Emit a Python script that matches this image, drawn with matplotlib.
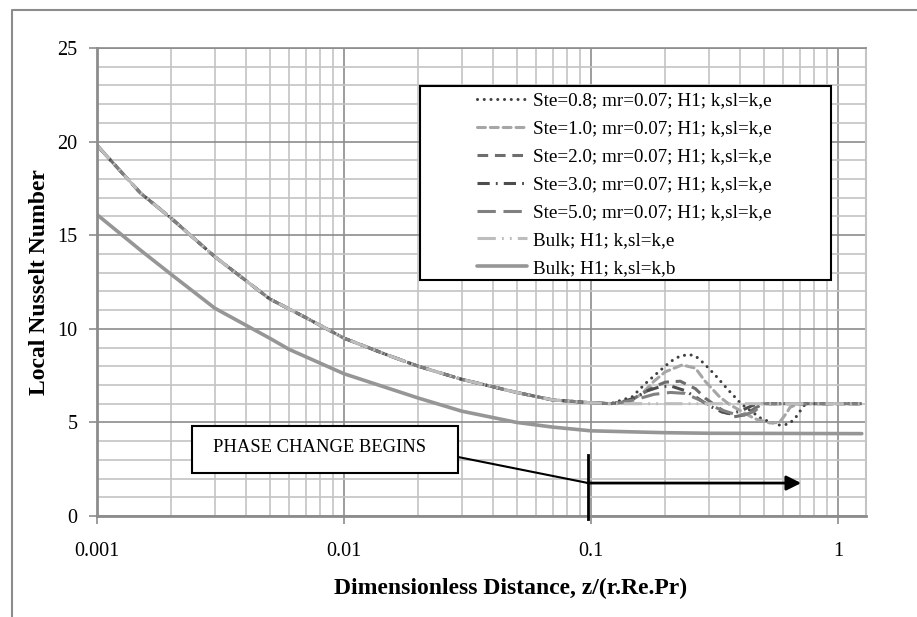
import matplotlib
matplotlib.use("Agg")
import matplotlib.pyplot as plt
from matplotlib.patches import Rectangle
from matplotlib.lines import Line2D
from matplotlib.ticker import FixedLocator, NullFormatter

plt.rcParams['font.family'] = ['Liberation Serif', 'DejaVu Serif']

# Local Nusselt number along the tube, z* = z/(r.Re.Pr)
# shared entrance region (k,sl = k,e) before phase change starts
z_entry = [0.001, 0.0015, 0.002, 0.003, 0.005, 0.007, 0.01, 0.015, 0.02, 0.03, 0.05, 0.07, 0.1, 0.12]
nu_entry = [19.8, 17.25, 15.9, 13.85, 11.6, 10.6, 9.5, 8.6, 8.0, 7.3, 6.6, 6.2, 6.05, 6.0]

# phase change section for each Stefan number
z_ste08 = [0.147, 0.167, 0.188, 0.21, 0.23, 0.25, 0.265, 0.287, 0.32, 0.34, 0.36, 0.38, 0.405,
           0.49, 0.576, 0.63, 0.67, 0.70, 0.74, 1.25]
nu_ste08 = [6.37, 7.1, 7.7, 8.25, 8.55, 8.62, 8.55, 8.15, 7.5, 7.1, 6.73, 6.4, 6.0,
            5.2, 4.86, 4.9, 5.2, 5.57, 6.0, 6.0]

z_ste10 = [0.14, 0.16, 0.18, 0.2, 0.234, 0.265, 0.29, 0.33, 0.36, 0.40, 0.46, 0.53, 0.58,
           0.62, 0.64, 0.69, 1.25]
nu_ste10 = [6.05, 6.5, 7.2, 7.7, 8.07, 7.9, 7.2, 6.4, 6.0, 5.65, 5.2, 4.97, 5.0,
            5.5, 5.8, 6.0, 6.0]

z_ste20 = [0.14, 0.16, 0.18, 0.2, 0.23, 0.265, 0.29, 0.32, 0.35, 0.38, 0.42, 0.46, 0.5, 1.25]
nu_ste20 = [6.1, 6.5, 6.9, 7.15, 7.2, 6.8, 6.3, 5.9, 5.55, 5.3, 5.4, 5.75, 6.0, 6.0]

z_ste30 = [0.13, 0.15, 0.17, 0.19, 0.21, 0.24, 0.27, 0.3, 0.34, 0.37, 0.41, 0.45, 0.48, 1.25]
nu_ste30 = [6.05, 6.3, 6.7, 6.9, 6.95, 6.7, 6.3, 5.9, 5.55, 5.45, 5.65, 5.9, 6.0, 6.0]

z_ste50 = [0.13, 0.15, 0.18, 0.21, 0.24, 0.27, 0.3, 0.34, 0.38, 0.42, 0.46, 0.5, 1.25]
nu_ste50 = [6.05, 6.2, 6.5, 6.6, 6.55, 6.25, 5.95, 5.65, 5.45, 5.4, 5.6, 6.0, 6.0]

# bulk properties, no phase change
z_bulk_e = z_entry + [0.2, 1.25]
nu_bulk_e = nu_entry + [6.0, 6.0]

z_bulk_b = [0.001, 0.0015, 0.002, 0.003, 0.005, 0.006, 0.01, 0.02, 0.03, 0.05, 0.07, 0.1, 0.2, 0.3, 1.25]
nu_bulk_b = [16.1, 14.2, 12.9, 11.1, 9.5, 8.9, 7.6, 6.3, 5.6, 5.0, 4.75, 4.55, 4.45, 4.42, 4.4]

labels = ["Ste=0.8; mr=0.07; H1; k,sl=k,e",
          "Ste=1.0; mr=0.07; H1; k,sl=k,e",
          "Ste=2.0; mr=0.07; H1; k,sl=k,e",
          "Ste=3.0; mr=0.07; H1; k,sl=k,e",
          "Ste=5.0; mr=0.07; H1; k,sl=k,e",
          "Bulk; H1; k,sl=k,e",
          "Bulk; H1; k,sl=k,b"]

z_phase = 0.1       # where phase change begins
z_arrow_end = 0.71
x_ticks = [0.001, 0.01, 0.1, 1]
x_tick_labels = ["0.001", "0.01", "0.1", "1"]
y_ticks = [0, 5, 10, 15, 20, 25]

W, H = 917, 617
def fx(px):
    return px / W
def fy(py):
    return 1 - py / H

fig = plt.figure(figsize=(W / 100, H / 100), dpi=100)
ax = fig.add_axes([fx(97), fy(516), fx(866 - 97), (516 - 48) / H])

# grid
ax.set_xscale('log')
ax.set_xlim(0.001, 1.3)
ax.set_ylim(0, 25)
ax.xaxis.set_major_locator(FixedLocator(x_ticks))
ax.xaxis.set_minor_locator(FixedLocator([m * d for d in [0.001, 0.01, 0.1] for m in range(2, 10)]))
ax.xaxis.set_minor_formatter(NullFormatter())
ax.set_xticklabels(x_tick_labels)
ax.yaxis.set_major_locator(FixedLocator(y_ticks))
ax.yaxis.set_minor_locator(FixedLocator(range(0, 26)))
ax.grid(True, which='major', color='#8c8c8c', lw=1.2)
ax.grid(True, which='minor', color='#c4c4c4', lw=1.2)
ax.set_axisbelow(True)
ax.tick_params(which='major', direction='out', length=6, width=1.2, color='#8c8c8c',
               labelsize=14.5, pad=13)
ax.tick_params(axis='y', pad=8)
ax.tick_params(which='minor', length=0)
for s in ['left', 'bottom']:
    ax.spines[s].set_color('#8c8c8c')
    ax.spines[s].set_linewidth(2)
ax.spines['top'].set_color('#8c8c8c')
ax.spines['top'].set_linewidth(1.2)
ax.spines['right'].set_color('#c4c4c4')
ax.spines['right'].set_linewidth(1.5)

lw = 2.2
l1, = ax.plot(z_entry + z_ste08, nu_entry + nu_ste08, color='#404040', lw=lw,
              linestyle=(0, (0.01, 2.2)), dash_capstyle='round')
l2, = ax.plot(z_entry + z_ste10, nu_entry + nu_ste10, color='#a6a6a6', lw=lw,
              linestyle=(0, (2.6, 1.6)), dash_capstyle='round')
l3, = ax.plot(z_entry + z_ste20, nu_entry + nu_ste20, color='#6e6e6e', lw=lw,
              linestyle=(0, (3.5, 2.2)))
l4, = ax.plot(z_entry + z_ste30, nu_entry + nu_ste30, color='#4d4d4d', lw=lw,
              linestyle=(0, (4, 2, 0.6, 2)))
l5, = ax.plot(z_entry + z_ste50, nu_entry + nu_ste50, color='#808080', lw=lw,
              linestyle=(0, (6, 2.5)))
l6, = ax.plot(z_bulk_e, nu_bulk_e, color='#bdbdbd', lw=lw,
              linestyle=(0, (6, 2, 0.6, 2, 0.6, 2)))
l7, = ax.plot(z_bulk_b, nu_bulk_b, color='#969696', lw=2.6, solid_capstyle='round')

# phase change marker and arrow
ax.plot([z_phase * 0.97, z_phase * 0.97], [3.25, -0.15], color='black', lw=2, clip_on=False, zorder=5)
ax.annotate("", xy=(z_arrow_end, 1.76), xytext=(z_phase * 0.97, 1.76),
            arrowprops=dict(arrowstyle='-|>', mutation_scale=22, lw=2, color='black',
                            shrinkA=0, shrinkB=0), zorder=5)

# axis titles
fig.text(fx(511), fy(588), "Dimensionless Distance, z/(r.Re.Pr)", fontsize=17,
         fontweight='bold', ha='center', va='center')
fig.text(fx(40), fy(282), "Local Nusselt Number", fontsize=17, fontweight='bold',
         rotation=90, ha='center', va='center')

# legend box
fig.patches.append(Rectangle((fx(420), fy(280)), fx(831 - 420), (280 - 86) / H,
                             transform=fig.transFigure, facecolor='white',
                             edgecolor='black', lw=1.5, zorder=3))
fig.legend([l1, l2, l3, l4, l5, l6, l7], labels, loc='upper left',
           bbox_to_anchor=(fx(477), fy(92)), frameon=False, fontsize=13.8,
           handlelength=2.6, handletextpad=0.3, borderpad=0, borderaxespad=0,
           labelspacing=0.55)

# phase change label
fig.patches.append(Rectangle((fx(192), fy(473)), fx(458 - 192), (473 - 426) / H,
                             transform=fig.transFigure, facecolor='white',
                             edgecolor='black', lw=1.5, zorder=3))
fig.text(fx(213), fy(448), "PHASE CHANGE BEGINS", fontsize=13.4, ha='left', va='center', zorder=4)
fig.lines.append(Line2D([fx(458), fx(588)], [fy(457), fy(483)], transform=fig.transFigure,
                        color='black', lw=1.5))

# chart frame
fig.lines.append(Line2D([fx(12), fx(12), 1], [0, fy(10), fy(10)], transform=fig.transFigure,
                        color='#8c8c8c', lw=1.5))

fig.savefig("out.png", dpi=100)
